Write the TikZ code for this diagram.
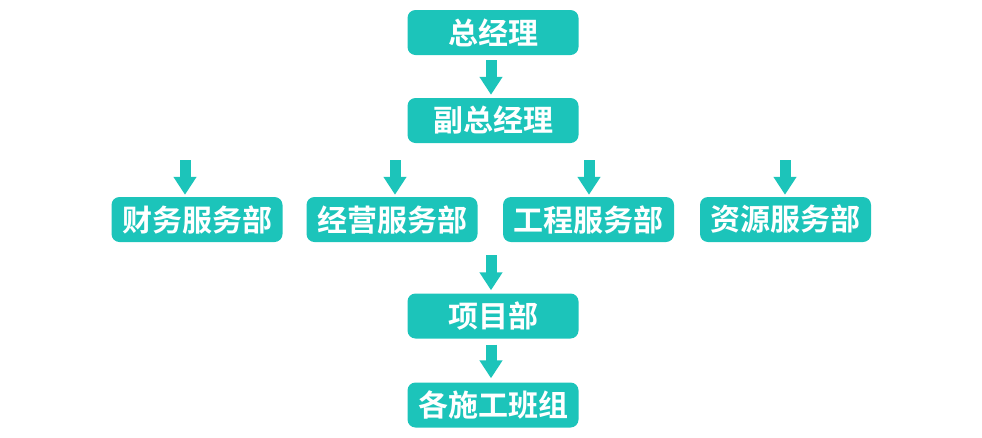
\documentclass[tikz,border=0pt]{standalone}
\usepackage{fontspec}
\newfontfamily\cjk{Noto Sans CJK SC}[BoldFont={Noto Sans CJK SC Bold}]
\usetikzlibrary{arrows.meta,calc}
\definecolor{teal1}{RGB}{28,196,186}
\tikzset{
  box/.style={fill=teal1, rounded corners=8pt, minimum width=171pt, minimum height=45pt,
    inner sep=0pt, text=white, font=\cjk\bfseries\fontsize{30}{30}\selectfont},
  fatarrow/.style={draw=teal1, line width=11pt,
    -{Triangle[width=22pt,length=18pt]}}
}
\begin{document}
\begin{tikzpicture}[x=1pt,y=-1pt]
\useasboundingbox (0,0) rectangle (982,437);
\node[box] (gm) at (493,32.5) {总经理};
\node[box] (vgm) at (493,120.5) {副总经理};
\node[box] (fin) at (197,219.5) {财务服务部};
\node[box] (ops) at (392,219.5) {经营服务部};
\node[box] (eng) at (588.5,219.5) {工程服务部};
\node[box] (res) at (785.5,219.5) {资源服务部};
\node[box] (proj) at (493,316) {项目部};
\node[box] (team) at (493,405) {各施工班组};
% arrows
\draw[fatarrow] ($(gm.south)+(-2,5)$) -- ($(vgm.north)+(-2,-3)$);
\draw[fatarrow] ($(proj.south)+(-2,6)$) -- ($(team.north)+(-2,-4)$);
\coordinate (pa) at (491,255);
\draw[fatarrow] (pa) -- ($(proj.north)+(-2,-3)$);
\coordinate (fa) at (185,160);
\draw[fatarrow] (fa) -- ($(fin.north)+(-12,-2)$);
\coordinate (oa) at (395,160);
\draw[fatarrow] (oa) -- ($(ops.north)+(3,-2)$);
\coordinate (ea) at (589,160);
\draw[fatarrow] (ea) -- ($(eng.north)+(0.5,-2)$);
\coordinate (ra) at (785,160);
\draw[fatarrow] (ra) -- ($(res.north)+(-0.5,-2)$);
\end{tikzpicture}
\end{document}
